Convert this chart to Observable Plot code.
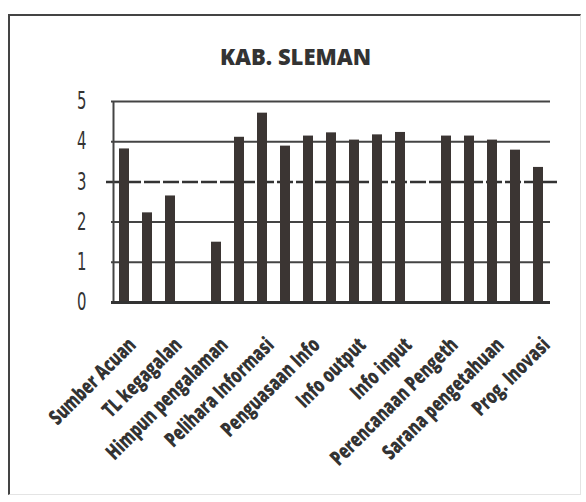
<!DOCTYPE html>
<html>
<head>
<meta charset="utf-8">
<script src="https://cdn.jsdelivr.net/npm/d3@7"></script>
<script src="https://cdn.jsdelivr.net/npm/@observablehq/plot@0.6"></script>
<style>
  html, body { margin: 0; padding: 0; background: #fff; }
  #wrap { position: relative; width: 586px; height: 502px; overflow: hidden; }
  #frame { position: absolute; left: 8px; top: 14px; width: 570px; height: 478px;
           border-left: 2.5px solid #444; border-top: 2.5px solid #444;
           border-right: 1px solid #e4e4e4; border-bottom: 1px solid #e4e4e4; }
  #title { position: absolute; left: 0; width: 591px; top: 41px; text-align: center;
           font-family: "Open Sans", sans-serif; font-weight: 800; font-size: 22px; color: #333; }
  #chart { position: absolute; left: 0; top: 0; }
</style>
</head>
<body>
<div id="wrap">
  <div id="frame"></div>
  <div id="title">KAB. SLEMAN</div>
  <div id="chart"></div>
</div>
<script>
const labels = ["Sumber Acuan", "", "TL kegagalan", "", "Himpun pengalaman", "", "Pelihara Informasi", "",
  "Penguasaan Info", "", "Info output", "", "Info input", "", "Perencanaan Pengeth", "",
  "Sarana pengetahuan", "", "Prog. Inovasi"];
const values = [3.82, 2.23, 2.65, null, 1.5, 4.11, 4.71, 3.89, 4.14, 4.22, 4.04, 4.17, 4.23, null,
  4.14, 4.14, 4.04, 3.79, 3.36];
const yTicks = [0, 1, 2, 3, 4, 5];

const data = values.map((v, i) => ({i, v})).filter(d => d.v != null);

const chart = Plot.plot({
  width: 586,
  height: 502,
  marginLeft: 111,
  marginRight: 36,
  marginTop: 101,
  marginBottom: 200,
  style: {background: "transparent", color: "#333"},
  x: {type: "band", domain: d3.range(labels.length), paddingInner: 0.58, paddingOuter: 0.29, label: null},
  y: {domain: [0, 5], label: null},
  marks: [
    Plot.ruleY([1, 2, 4, 5], {stroke: "#444", strokeWidth: 2}),
    Plot.ruleY([3], {stroke: "#333", strokeWidth: 2.5, strokeDasharray: "16,3", insetLeft: -5, insetRight: -7}),
    Plot.ruleX([0], {x: 0, y1: 0, y2: 5, stroke: "#444", strokeWidth: 2, dx: -11}),
    Plot.barY(data, {x: "i", y: "v", fill: "#3b3533"}),
    Plot.ruleY([0], {stroke: "#333", strokeWidth: 3}),
    Plot.axisY({ticks: yTicks, tickSize: 0, tickPadding: 25, tickFormat: d => String(d), label: null,
      fontSize: 24, fontFamily: "DejaVu Sans", fill: "#333"}),
    Plot.axisX({tickSize: 0, tickRotate: -45, tickPadding: 0, tickFormat: i => labels[i], label: null,
      fontSize: 21, fontWeight: 800, fontFamily: "Open Sans", fill: "#333", dx: 8, dy: 39})
  ]
});
// condensed look: narrow the glyphs along the reading direction
d3.select(chart).selectAll('g[aria-label="y-axis tick label"] text')
  .attr("transform", function () { return (this.getAttribute("transform") || "") + " scale(0.62,1)"; });
d3.select(chart).selectAll('g[aria-label="x-axis tick label"] text')
  .attr("transform", function () { return (this.getAttribute("transform") || "") + " scale(0.72,1)"; });
document.getElementById("chart").appendChild(chart);
</script>
</body>
</html>
